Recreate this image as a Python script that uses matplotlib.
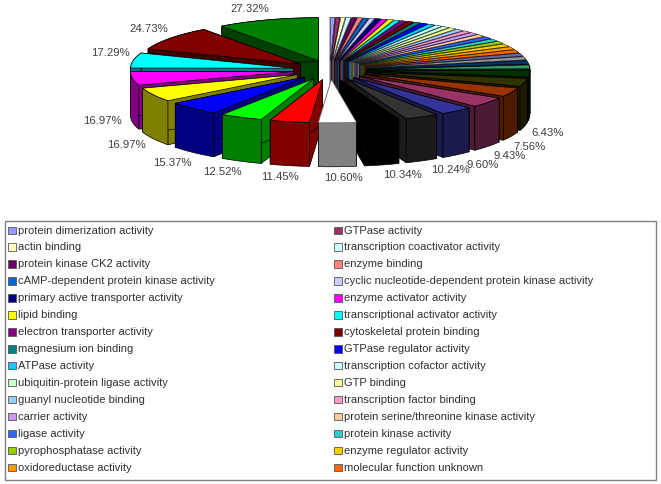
import numpy as np
import matplotlib
matplotlib.use("Agg")
import matplotlib.pyplot as plt
from matplotlib.patches import Polygon, Rectangle

plt.rcParams["font.family"] = ["Liberation Sans", "DejaVu Sans"]

# legend entries, left column then right column
left_names = ["protein dimerization activity", "actin binding", "protein kinase CK2 activity",
              "cAMP-dependent protein kinase activity", "primary active transporter activity",
              "lipid binding", "electron transporter activity", "magnesium ion binding",
              "ATPase activity", "ubiquitin-protein ligase activity", "guanyl nucleotide binding",
              "carrier activity", "ligase activity", "pyrophosphatase activity",
              "oxidoreductase activity"]
right_names = ["GTPase activity", "transcription coactivator activity", "enzyme binding",
               "cyclic nucleotide-dependent protein kinase activity", "enzyme activator activity",
               "transcriptional activator activity", "cytoskeletal protein binding",
               "GTPase regulator activity", "transcription cofactor activity", "GTP binding",
               "transcription factor binding", "protein serine/threonine kinase activity",
               "protein kinase activity", "enzyme regulator activity", "molecular function unknown"]
left_colors = ["#9999FF", "#FFFFCC", "#660066", "#0066CC", "#000080", "#FFFF00", "#800080", "#008080",
               "#00CCFF", "#CCFFCC", "#99CCFF", "#CC99FF", "#3366FF", "#99CC00", "#FF9900"]
right_colors = ["#993366", "#CCFFFF", "#FF8080", "#CCCCFF", "#FF00FF", "#00FFFF", "#800000", "#0000FF",
                "#CCFFFF", "#FFFF99", "#FF99CC", "#FFCC99", "#33CCCC", "#FFCC00", "#FF6600"]

# slices clockwise from 12 o'clock
small_values = [1.0, 1.0, 1.0, 1.1, 1.1, 1.1, 1.2, 1.2, 1.2, 1.3, 1.3, 1.3, 1.4, 1.4, 1.5, 1.5, 1.6,
                1.6, 1.7, 1.7, 1.8, 1.8, 1.9, 1.9, 2.0, 2.0, 2.1, 2.2, 2.3, 2.4, 2.5, 2.6, 3.0, 3.4]
small_colors = ["#9999FF", "#993366", "#FFFFCC", "#CCFFFF", "#660066", "#FF8080", "#0066CC", "#CCCCFF",
                "#000080", "#FF00FF", "#FFFF00", "#00FFFF", "#800080", "#800000", "#008080", "#0000FF",
                "#00CCFF", "#CCFFFF", "#CCFFCC", "#FFFF99", "#99CCFF", "#FF99CC", "#CC99FF", "#FFCC99",
                "#3366FF", "#33CCCC", "#99CC00", "#FFCC00", "#FF9900", "#FF6600", "#666699", "#969696",
                "#003366", "#339966"]
big_values = [5.5, 6.43, 7.56, 9.43, 9.60, 10.24, 10.34, 10.60, 11.45, 12.52, 15.37, 16.97, 16.97,
              17.29, 24.73, 27.32]
big_colors = ["#003300", "#333300", "#993300", "#993366", "#333399", "#333333", "#000000", "#FFFFFF",
              "#FF0000", "#00FF00", "#0000FF", "#FFFF00", "#FF00FF", "#00FFFF", "#800000", "#008000"]
big_labels = ["", "6.43%", "7.56%", "9.43%", "9.60%", "10.24%", "10.34%", "10.60%", "11.45%", "12.52%",
              "15.37%", "16.97%", "16.97%", "17.29%", "24.73%", "27.32%"]

CX, CY = 330.0, 70.0
RX, RY = 163.0, 43.0
DEPTH = 44.0
EXPLODE = 0.227
# the 3D view spreads the lower right slices, so screen angles lag the plain ones
WARP_AT = [0, 40, 78, 98, 115, 125, 150, 178, 212, 234, 256, 290, 360]
WARP_BY = [0, 5, 12, 17, 19, 18.5, 15.5, 14, 11, 9, 4, 0, 0]
# labels do not sit quite on the slice middles either
LABEL_AT = [102, 116, 130, 143, 154, 165, 179, 193, 208, 225]
LABEL_BY = [5, 5, 0, -2.8, -4.4, -3.3, -1, 1.2, 1.7, 0]


def screen_angle(a):
    return a + np.interp(a, WARP_AT, WARP_BY)


def shade(color):
    rgb = np.array(matplotlib.colors.to_rgb(color))
    return tuple(rgb * 0.5)


def wedge_parts(a0, a1):
    mid = np.radians((a0 + a1) / 2)
    ax0 = CX + EXPLODE * RX * np.sin(mid)
    ay0 = CY - EXPLODE * RY * np.cos(mid)
    t = np.radians(np.linspace(a0, a1, 30))
    xs = ax0 + RX * np.sin(t)
    ys = ay0 - RY * np.cos(t)
    return ax0, ay0, xs, ys


# labels follow one curve above the pie and another one below it
def label_pos(a0, a1):
    deg = (a0 + a1) / 2
    deg = deg + np.interp(deg, LABEL_AT, LABEL_BY, left=0, right=0)
    mid = np.radians(deg)
    if np.cos(mid) > 0:
        return 314 + 207 * np.sin(mid), 63 - 57 * np.cos(mid)
    y = np.interp(-np.cos(mid), [0.17, 0.45, 0.72, 0.88, 1.0], [121, 144, 163, 172, 178])
    return CX + 230 * np.sin(mid), y


fig = plt.figure(figsize=(6.61, 4.84), dpi=100)
ax = fig.add_axes([0, 0, 1, 1])
ax.set_xlim(0, 661)
ax.set_ylim(484, 0)
ax.axis("off")

values = np.array(small_values + big_values)
colors = small_colors + big_colors
labels = [""] * len(small_values) + big_labels
edges = np.cumsum(np.r_[0, values]) / values.sum() * 360
edges = screen_angle(edges)
slices = list(zip(edges[:-1], edges[1:], colors, labels))

# back slices first, front ones last
order = sorted(slices, key=lambda s: -np.cos(np.radians((s[0] + s[1]) / 2)))
for a0, a1, color, label in order:
    ax0, ay0, xs, ys = wedge_parts(a0, a1)
    dark = shade(color)
    if color == "#FFFFFF":
        dark = "#808080"
    line = "#000000"
    lw = 0.5 if a1 - a0 > 5 else 0.2
    # walls, then rim, then the top
    for px, py in [((ax0, xs[0]), (ay0, ys[0])), ((ax0, xs[-1]), (ay0, ys[-1]))]:
        wall = [(px[0], py[0]), (px[1], py[1]), (px[1], py[1] + DEPTH), (px[0], py[0] + DEPTH)]
        ax.add_patch(Polygon(wall, closed=True, fc=dark, ec=line, lw=lw))
    rim = np.r_[np.c_[xs, ys], np.c_[xs, ys + DEPTH][::-1]]
    ax.add_patch(Polygon(rim, closed=True, fc=dark, ec=line, lw=lw))
    top = np.r_[[[ax0, ay0]], np.c_[xs, ys]]
    ax.add_patch(Polygon(top, closed=True, fc=color, ec="#000000" if color != "#FFFFFF" else "#808080", lw=lw))
    if label:
        tx, ty = label_pos(a0, a1)
        ax.text(tx, ty, label, fontsize=8.2, color="#404040", ha="center", va="center")

# legend box
ax.add_patch(Rectangle((5, 221), 651, 258.5, fc="white", ec="#808080", lw=1.0))
ROW0, ROW_STEP = 231.0, 16.93
for col_x, names, cols in [(8, left_names, left_colors), (334, right_names, right_colors)]:
    for i, (name, col) in enumerate(zip(names, cols)):
        y = ROW0 + i * ROW_STEP
        ax.add_patch(Rectangle((col_x, y - 4.5), 7.5, 7.5, fc=col, ec="#555555", lw=0.6))
        ax.text(col_x + 10, y - 0.5, name, fontsize=8.0, color="#303030", va="center", ha="left")

fig.savefig("out.png", dpi=100)
